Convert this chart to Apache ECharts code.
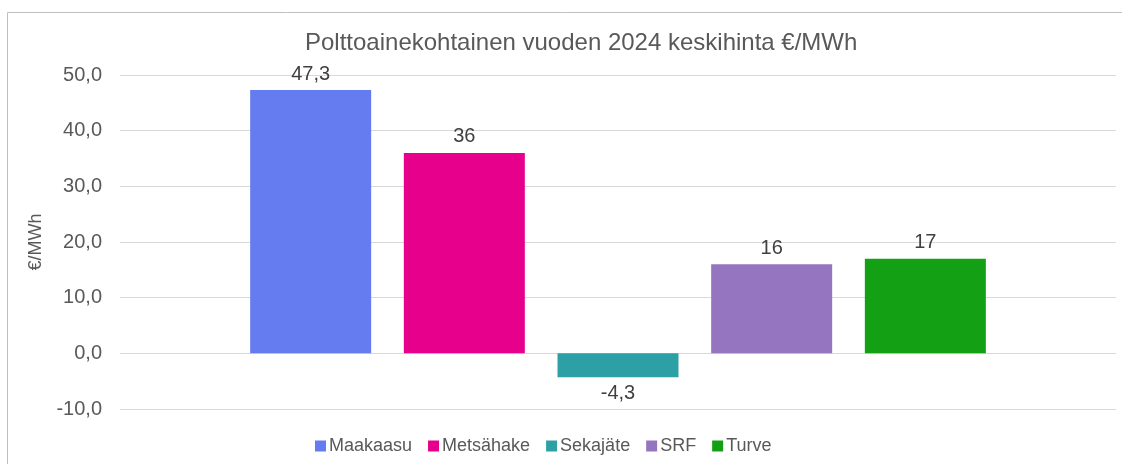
<!DOCTYPE html>
<html>
<head>
<meta charset="utf-8">
<script src="https://cdn.jsdelivr.net/npm/echarts@6/dist/echarts.min.js"></script>
<style>
  html, body { margin: 0; padding: 0; background: #fff; }
  #chart { width: 1122px; height: 464px; }
</style>
</head>
<body>
<div id="chart"></div>
<script>
const fuels = ['Maakaasu', 'Metsähake', 'Sekajäte', 'SRF', 'Turve']
const prices = [47.3, 36, -4.3, 16, 17]
const colors = ['#657cf0', '#e6008c', '#2ca0a4', '#9575c0', '#14a014']
const yTicks = [-10, 0, 10, 20, 30, 40, 50]

const font = 'Liberation Sans, Arial, sans-serif'
const fmt = v => String(v).replace('.', ',')

const chart = echarts.init(document.getElementById('chart'))

const series = fuels.map((name, i) => ({
  name: name,
  type: 'bar',
  data: [prices[i]],
  barWidth: 121,
  barGap: '27%',
  itemStyle: { color: colors[i] },
  label: {
    show: true,
    position: prices[i] < 0 ? 'bottom' : 'top',
    distance: 6,
    formatter: p => fmt(p.value),
    color: '#404040',
    fontSize: 20,
    fontFamily: font
  }
}))

chart.setOption({
  animation: false,
  title: {
    text: 'Polttoainekohtainen vuoden 2024 keskihinta €/MWh',
    left: 300,
    top: 26,
    textStyle: { color: '#595959', fontSize: 24, fontWeight: 'normal', fontFamily: font }
  },
  legend: {
    data: fuels,
    left: 310,
    top: 432,
    icon: 'rect',
    itemWidth: 11,
    itemHeight: 11,
    itemGap: 16,
    textStyle: { color: '#595959', fontSize: 18, fontFamily: font, padding: [0, 0, 0, -2] }
  },
  graphic: [{
    type: 'rect',
    shape: { x: 7.5, y: 12.5, width: 1130, height: 470 },
    style: { fill: 'none', stroke: '#bfbfbf', lineWidth: 1 },
    silent: true
  }],
  grid: { left: 120, right: 6, top: 75, bottom: 55 },
  xAxis: {
    type: 'category',
    data: [''],
    axisLine: { show: false },
    axisTick: { show: false },
    axisLabel: { show: false }
  },
  yAxis: {
    type: 'value',
    min: yTicks[0],
    max: yTicks[yTicks.length - 1],
    interval: 10,
    name: '€/MWh',
    nameLocation: 'middle',
    nameGap: 67,
    nameTextStyle: { color: '#595959', fontSize: 18, fontFamily: font },
    axisLine: { show: false },
    axisTick: { show: false },
    axisLabel: {
      formatter: v => v.toFixed(1).replace('.', ','),
      color: '#595959',
      fontSize: 20,
      fontFamily: font,
      margin: 18
    },
    splitLine: { lineStyle: { color: '#d9d9d9', width: 1 } }
  },
  series: series
})
</script>
</body>
</html>
